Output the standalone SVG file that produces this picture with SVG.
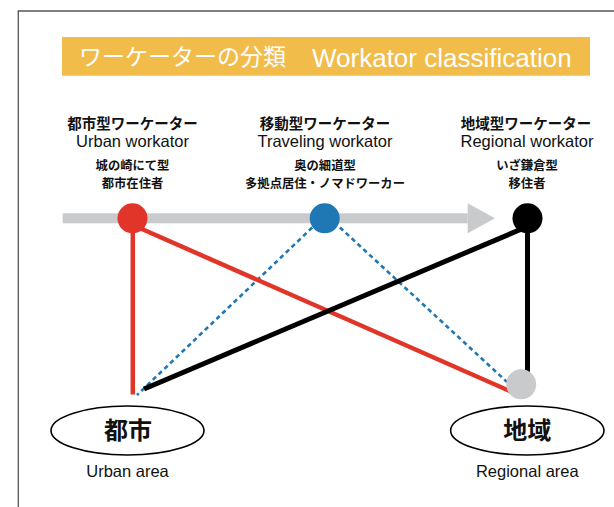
<svg xmlns="http://www.w3.org/2000/svg" width="614" height="507" viewBox="0 0 614 507">
<style>
.jp{font-family:"Noto Sans CJK JP","Noto Sans CJK SC",sans-serif;}
.en{font-family:"Liberation Sans",Arial,sans-serif;}
.hd{font-size:14.5px;font-weight:700;fill:#111;text-anchor:middle;}
.sub{font-size:12.3px;font-weight:700;fill:#111;text-anchor:middle;}
.lat{font-size:16.5px;fill:#111;text-anchor:middle;}
.area{font-size:24px;font-weight:700;fill:#111;text-anchor:middle;}
.ell{fill:#fff;stroke:#000;stroke-width:1.6;}
.red{stroke:#E2352A;stroke-width:4.5;fill:none;}
.blk{stroke:#000;stroke-width:5;fill:none;}
.blu{stroke:#1F77B4;stroke-width:2.6;stroke-dasharray:4.5 3.5;fill:none;}
</style>
<rect width="614" height="507" fill="#fff"/>
<path d="M18.3 507 V11 H614" fill="none" stroke="#555" stroke-width="1.3"/>
<g id="title">
<rect x="62" y="37" width="528" height="38.7" fill="#F2BC4A"/>
<text class="jp" x="79" y="65" font-size="23" fill="#fff">ワーケーターの分類</text>
<text class="en" x="312" y="67" font-size="26" fill="#fff">Workator classification</text>
</g>
<g id="col-urban">
<text class="jp hd" x="132.5" y="129">都市型ワーケーター</text>
<text class="en lat" x="132.5" y="146.5">Urban workator</text>
<text class="jp sub" x="132.5" y="170.3">城の崎にて型</text>
<text class="jp sub" x="132.5" y="188.3">都市在住者</text>
</g>
<g id="col-traveling">
<text class="jp hd" x="325" y="129">移動型ワーケーター</text>
<text class="en lat" x="325" y="146.5">Traveling workator</text>
<text class="jp sub" x="325" y="170.3">奥の細道型</text>
<text class="jp sub" x="325" y="188.3">多拠点居住・ノマドワーカー</text>
</g>
<g id="col-regional">
<text class="jp hd" x="526" y="129">地域型ワーケーター</text>
<text class="en lat" x="527" y="146.5">Regional workator</text>
<text class="jp sub" x="527" y="170.3">いざ鎌倉型</text>
<text class="jp sub" x="527" y="188.3">移住者</text>
</g>
<g id="axis">
<rect x="62.7" y="213.3" width="405" height="10" fill="#C9CACB"/>
<polygon points="467.7,203.3 495,218.3 467.7,233.3" fill="#C9CACB"/>
</g>
<g id="connectors">
<line class="blu" x1="318" y1="222" x2="137" y2="395"/>
<line class="blu" x1="334" y1="222" x2="507" y2="382"/>
<line class="red" x1="132.8" y1="218" x2="132.8" y2="394.5"/>
<line class="red" x1="132.8" y1="225" x2="512" y2="392"/>
<line class="blk" x1="527.5" y1="226.5" x2="144" y2="389"/>
<line class="blk" x1="527.5" y1="218" x2="527.5" y2="375"/>
</g>
<g id="node-urban-type"><circle cx="132.5" cy="218.3" r="15" fill="#E2352A"/></g>
<g id="node-traveling-type"><circle cx="324.7" cy="218.3" r="15" fill="#1F77B4"/></g>
<g id="node-regional-type"><circle cx="527.5" cy="218.3" r="15" fill="#000"/></g>
<g id="node-regional-point"><circle cx="521.2" cy="384.3" r="15" fill="#C9CACB"/></g>
<g id="area-urban">
<ellipse class="ell" cx="127.5" cy="430.5" rx="76.5" ry="24.5"/>
<text class="jp area" x="128" y="439">都市</text>
<text class="en lat" x="127.5" y="476.7">Urban area</text>
</g>
<g id="area-regional">
<ellipse class="ell" cx="527.3" cy="430.5" rx="76.7" ry="24.5"/>
<text class="jp area" x="527.3" y="439">地域</text>
<text class="en lat" x="527.3" y="476.7">Regional area</text>
</g>
</svg>
